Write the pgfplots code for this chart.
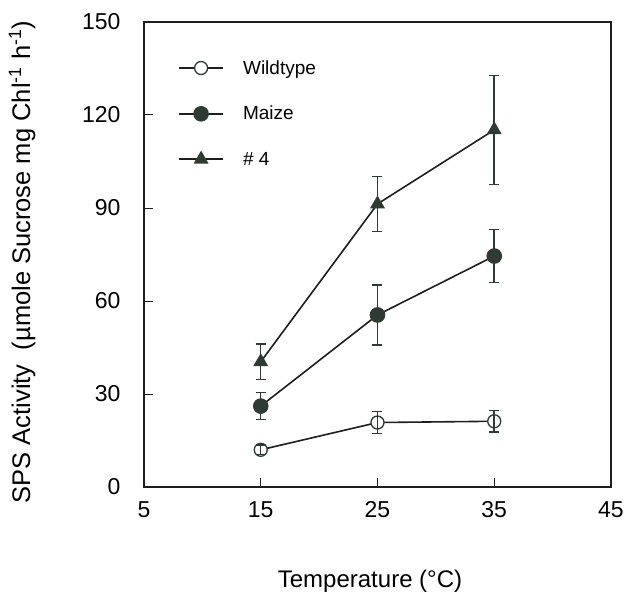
\documentclass[border=0pt]{standalone}
\usepackage{fontspec}
\setmainfont{Liberation Sans}
\usepackage{pgfplots}
\pgfplotsset{compat=1.18}
\definecolor{mk}{HTML}{2F3A34}
\definecolor{ln}{HTML}{1E1E1E}
\begin{document}
\begin{tikzpicture}
\begin{axis}[
  scale only axis, width=467pt, height=465pt,
  xmin=5, xmax=45, ymin=0, ymax=150,
  xtick={5,15,25,35,45}, ytick={0,30,60,90,120,150},
  xtick pos=bottom, ytick pos=left,
  tick align=inside, major tick length=9pt,
  tick style={line width=1pt, ln},
  axis line style={line width=1.5pt, ln},
  clip marker paths=true,
  /pgf/number format/assume math mode=true,
  every tick label/.append style={font=\fontsize{23}{23}\selectfont},
  yticklabel style={xshift=-20pt},
  xticklabel style={yshift=-11pt},
  xlabel={Temperature (°C)},
  ylabel={SPS Activity\ \ (µmole Sucrose mg Chl\textsuperscript{-1} h\textsuperscript{-1})},
  xlabel style={at={(axis description cs:0.484,-0.202)}, anchor=center, font=\fontsize{24}{24}\selectfont},
  ylabel style={at={(axis description cs:-0.261,0.484)}, anchor=center, font=\fontsize{25.5}{25.5}\selectfont},
  legend style={at={(axis description cs:0.073,0.92)}, anchor=north west, draw=none, fill=none,
    font=\fontsize{19}{19}\selectfont, row sep=28.5pt, inner sep=0pt, nodes={inner sep=1pt}},
  legend cell align=left,
  legend image code/.code={
    \draw[#1, mark repeat=2, mark phase=2] plot coordinates {(0pt,0pt) (22pt,0pt) (44pt,0pt)};
    \path[draw=none, fill=none] (63pt,0pt) circle (0pt);
  },
  error bars/error bar style={line width=1.5pt, mk},
  error bars/error mark options={rotate=90, mark size=5pt, line width=1.5pt, draw=mk},
]
\addplot[line width=1.6pt, ln, mark=*, mark size=6.5pt, mark options={fill=white, draw=mk, line width=1.3pt}]
  coordinates {(15,12.0) (25,20.8) (35,21.2)};
\addlegendentry{Wildtype}
\addplot[line width=1.6pt, ln, mark=*, mark size=7pt, mark options={fill=mk, draw=mk},
  error bars/.cd, y dir=both, y explicit]
  coordinates {(15,26.1) +- (0,4.4) (25,55.5) +- (0,9.7) (35,74.5) +- (0,8.5)};
\addlegendentry{Maize}
\addplot[line width=1.6pt, ln, mark=triangle*, mark size=7pt, mark options={fill=mk, draw=mk},
  error bars/.cd, y dir=both, y explicit]
  coordinates {(15,40.4) +- (0,5.7) (25,91.3) +- (0,8.8) (35,115.2) +- (0,17.6)};
\addlegendentry{\# 4}
\addplot[forget plot, draw=none, no marks,
  error bars/.cd, y dir=both, y explicit]
  coordinates {(15,12.0) +- (0,1.5) (25,20.8) +- (0,3.5) (35,21.2) +- (0,3.5)};
\end{axis}
\pgfresetboundingbox
\path (-144pt,-108pt) rectangle (481pt,487pt);
\end{tikzpicture}
\end{document}
